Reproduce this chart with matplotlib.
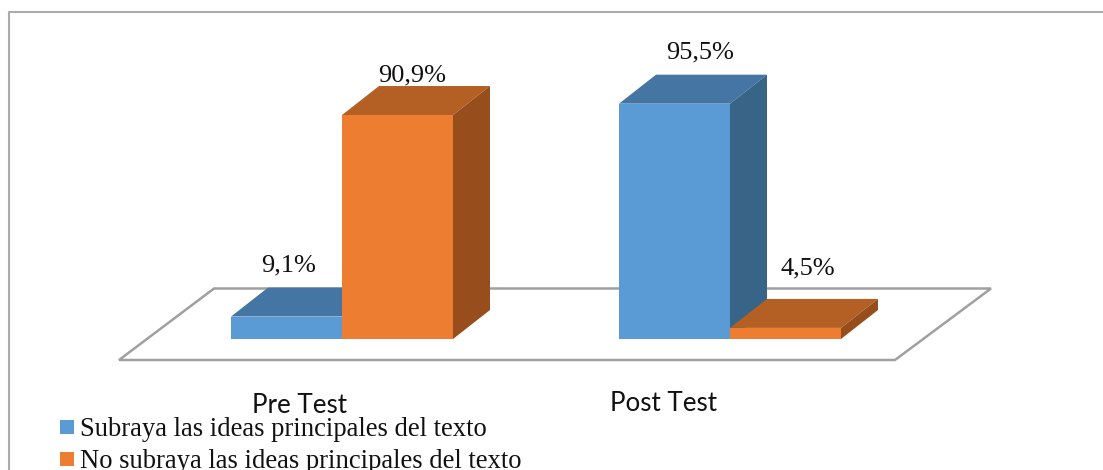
import matplotlib
matplotlib.use('Agg')
import matplotlib.pyplot as plt
from matplotlib.patches import Polygon, Rectangle

categories = ['Pre Test', 'Post Test']
series_names = ['Subraya las ideas principales del texto', 'No subraya las ideas principales del texto']
subraya = [9.1, 95.5]
no_subraya = [90.9, 4.5]
value_labels_a = ['9,1%', '95,5%']
value_labels_b = ['90,9%', '4,5%']

front = ['#5B9BD5', '#ED7D31']
top = ['#4575A3', '#B45F23']
side = ['#386488', '#984E1C']
grey = '#A0A0A0'

# axes fill the figure: x in pixels, y in percent
fig = plt.figure(figsize=(11.03, 4.70), dpi=100)
ax = fig.add_axes([0, 0, 1, 1])
px = 2.464
ax.set_xlim(0, 1103)
ax.set_ylim((339 - 470) / px, 339 / px)
ax.axis('off')

depth_x = 37
depth_y = 29 / px


def py(pixel):
    return (339 - pixel) / px


# frame of the chart, only top and left are visible
ax.plot([8.5, 8.5, 1103], [py(470), py(11.5), py(11.5)], color='#ABABAB', lw=1.5, zorder=1)

# floor
floor = [(119, py(360)), (214, py(288.5)), (991, py(288.5)), (895, py(360))]
ax.add_patch(Polygon(floor, closed=True, fc='white', ec=grey, lw=1.8, zorder=1))


def bar3d(x0, w, h, i, z):
    d = depth_y
    ax.add_patch(Polygon([(x0, h), (x0 + depth_x, h + d), (x0 + w + depth_x, h + d), (x0 + w, h)],
                         fc=top[i], ec='none', zorder=z))
    ax.add_patch(Polygon([(x0 + w, 0), (x0 + w + depth_x, d), (x0 + w + depth_x, h + d), (x0 + w, h)],
                         fc=side[i], ec='none', zorder=z))
    ax.add_patch(Rectangle((x0, 0), w, h, fc=front[i], ec='none', zorder=z + 0.5))


starts = [231, 619]
width = 111
for k in range(2):
    bar3d(starts[k], width, subraya[k], 0, 3 + k * 2)
    bar3d(starts[k] + width, width, no_subraya[k], 1, 4 + k * 2)

serif = 'Liberation Serif'
label_x_a = [289, 700]
label_x_b = [412, 808]
for k in range(2):
    ax.annotate(value_labels_a[k], (label_x_a[k], subraya[k]), xytext=(0, 40),
                textcoords='offset pixels', ha='center', va='bottom', fontsize=19, family=serif,
                color='#111111', zorder=10)
    ax.annotate(value_labels_b[k], (label_x_b[k], no_subraya[k]), xytext=(0, 29 if k == 0 else 48),
                textcoords='offset pixels', ha='center', va='bottom', fontsize=19, family=serif,
                color='#111111', zorder=10)

cat_x = [300, 663]
for k in range(2):
    ax.text(cat_x[k], py(413 if k == 0 else 411), categories[k], ha='center', va='baseline',
            fontsize=18.7, family='Lato', color='#111111', zorder=10)

# legend
leg_y = [427, 459]
for i in range(2):
    ax.add_patch(Rectangle((60, py(leg_y[i] + 7)), 14, 14 / px, fc=front[i], ec='none', zorder=10))
    ax.text(80, py(leg_y[i] + 9), series_names[i], ha='left', va='baseline', fontsize=19.2, family=serif,
            color='#111111', zorder=10)

fig.savefig('out.png', dpi=100)
